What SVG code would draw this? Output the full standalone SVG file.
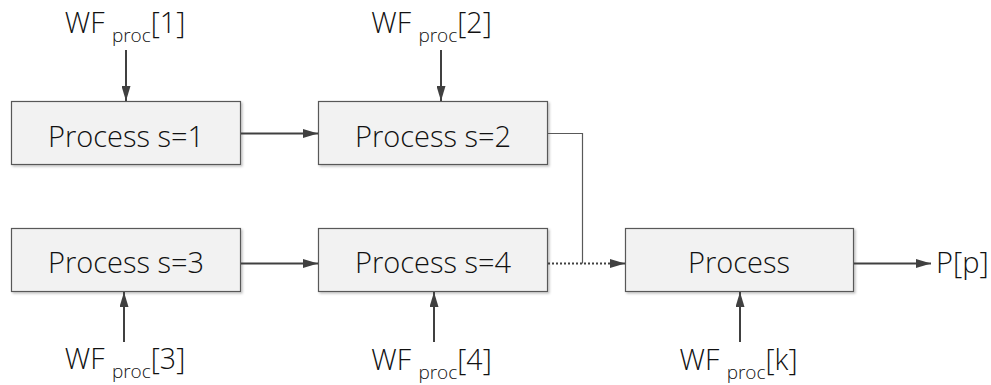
<svg xmlns="http://www.w3.org/2000/svg" width="991" height="385" viewBox="0 0 991 385">
  <style>
    text { font-family: "Open Sans", "Liberation Sans", sans-serif; font-weight: 300; fill: #111; }
    .box { fill: #f2f2f2; stroke: #595959; stroke-width: 1.2; }
    .lbl { font-size: 29px; text-anchor: middle; }
    .wf { font-size: 28.5px; text-anchor: middle; }
    .sub { font-size: 19px; }
    .arrow { stroke: #404040; stroke-width: 2; fill: none; }
    .thin { stroke: #595959; stroke-width: 1.2; fill: none; }
    .dot { stroke: #404040; stroke-width: 2; fill: none; stroke-dasharray: 2 2; }
  </style>
  <defs>
    <marker id="head" viewBox="0 0 15 9" refX="15" refY="4.5" markerWidth="15" markerHeight="9" markerUnits="userSpaceOnUse" orient="auto">
      <path d="M0,0 L15,4.5 L0,9 Z" fill="#404040"/>
    </marker>
    <filter id="shadow" x="-5%" y="-10%" width="115%" height="130%">
      <feDropShadow dx="1.5" dy="1.5" stdDeviation="1" flood-color="#000" flood-opacity="0.25"/>
    </filter>
  </defs>

  <!-- process boxes -->
  <g id="p1">
    <rect class="box" x="11.5" y="101.5" width="229" height="63" filter="url(#shadow)"/>
    <text class="lbl" x="126" y="147">Process s=1</text>
  </g>
  <g id="p2">
    <rect class="box" x="318.5" y="101.5" width="229" height="63" filter="url(#shadow)"/>
    <text class="lbl" x="433" y="147">Process s=2</text>
  </g>
  <g id="p3">
    <rect class="box" x="11.5" y="228.5" width="229" height="63" filter="url(#shadow)"/>
    <text class="lbl" x="126" y="273">Process s=3</text>
  </g>
  <g id="p4">
    <rect class="box" x="318.5" y="228.5" width="229" height="63" filter="url(#shadow)"/>
    <text class="lbl" x="433" y="273">Process s=4</text>
  </g>
  <g id="p5">
    <rect class="box" x="625.5" y="228.5" width="228" height="63" filter="url(#shadow)"/>
    <text class="lbl" x="739" y="273">Process</text>
  </g>

  <!-- workflow inputs and output -->
  <g id="wf1">
    <text class="wf" x="125" y="33">WF <tspan class="sub" dy="9">proc</tspan><tspan dy="-9">[1]</tspan></text>
  </g>
  <g id="wf2">
    <text class="wf" x="431.5" y="33">WF <tspan class="sub" dy="9">proc</tspan><tspan dy="-9">[2]</tspan></text>
  </g>
  <g id="wf3">
    <text class="wf" x="125" y="369">WF <tspan class="sub" dy="9">proc</tspan><tspan dy="-9">[3]</tspan></text>
  </g>
  <g id="wf4">
    <text class="wf" x="431.5" y="370">WF <tspan class="sub" dy="9">proc</tspan><tspan dy="-9">[4]</tspan></text>
  </g>
  <g id="wfk">
    <text class="wf" x="738.5" y="370">WF <tspan class="sub" dy="9">proc</tspan><tspan dy="-9">[k]</tspan></text>
  </g>
  <g id="out">
    <text x="936" y="273" style="font-size:29px">P[p]</text>
  </g>

  <!-- connectors -->
  <g id="connectors">
    <line class="arrow" x1="126" y1="50" x2="126" y2="101" marker-end="url(#head)"/>
    <line class="arrow" x1="441" y1="50" x2="441" y2="101" marker-end="url(#head)"/>
    <line class="arrow" x1="124" y1="342" x2="124" y2="292" marker-end="url(#head)"/>
    <line class="arrow" x1="434" y1="342" x2="434" y2="292" marker-end="url(#head)"/>
    <line class="arrow" x1="740" y1="342" x2="740" y2="292" marker-end="url(#head)"/>
    <line class="arrow" x1="241" y1="133.5" x2="318" y2="133.5" marker-end="url(#head)"/>
    <line class="arrow" x1="241" y1="263.5" x2="318" y2="263.5" marker-end="url(#head)"/>
    <polyline class="thin" points="548,133.5 582.5,133.5 582.5,263.5"/>
    <line class="dot" x1="548" y1="263.5" x2="611" y2="263.5"/>
    <line class="arrow" x1="610" y1="263.5" x2="625" y2="263.5" marker-end="url(#head)"/>
    <line class="arrow" x1="854" y1="263.5" x2="931" y2="263.5" marker-end="url(#head)"/>
  </g>
</svg>
